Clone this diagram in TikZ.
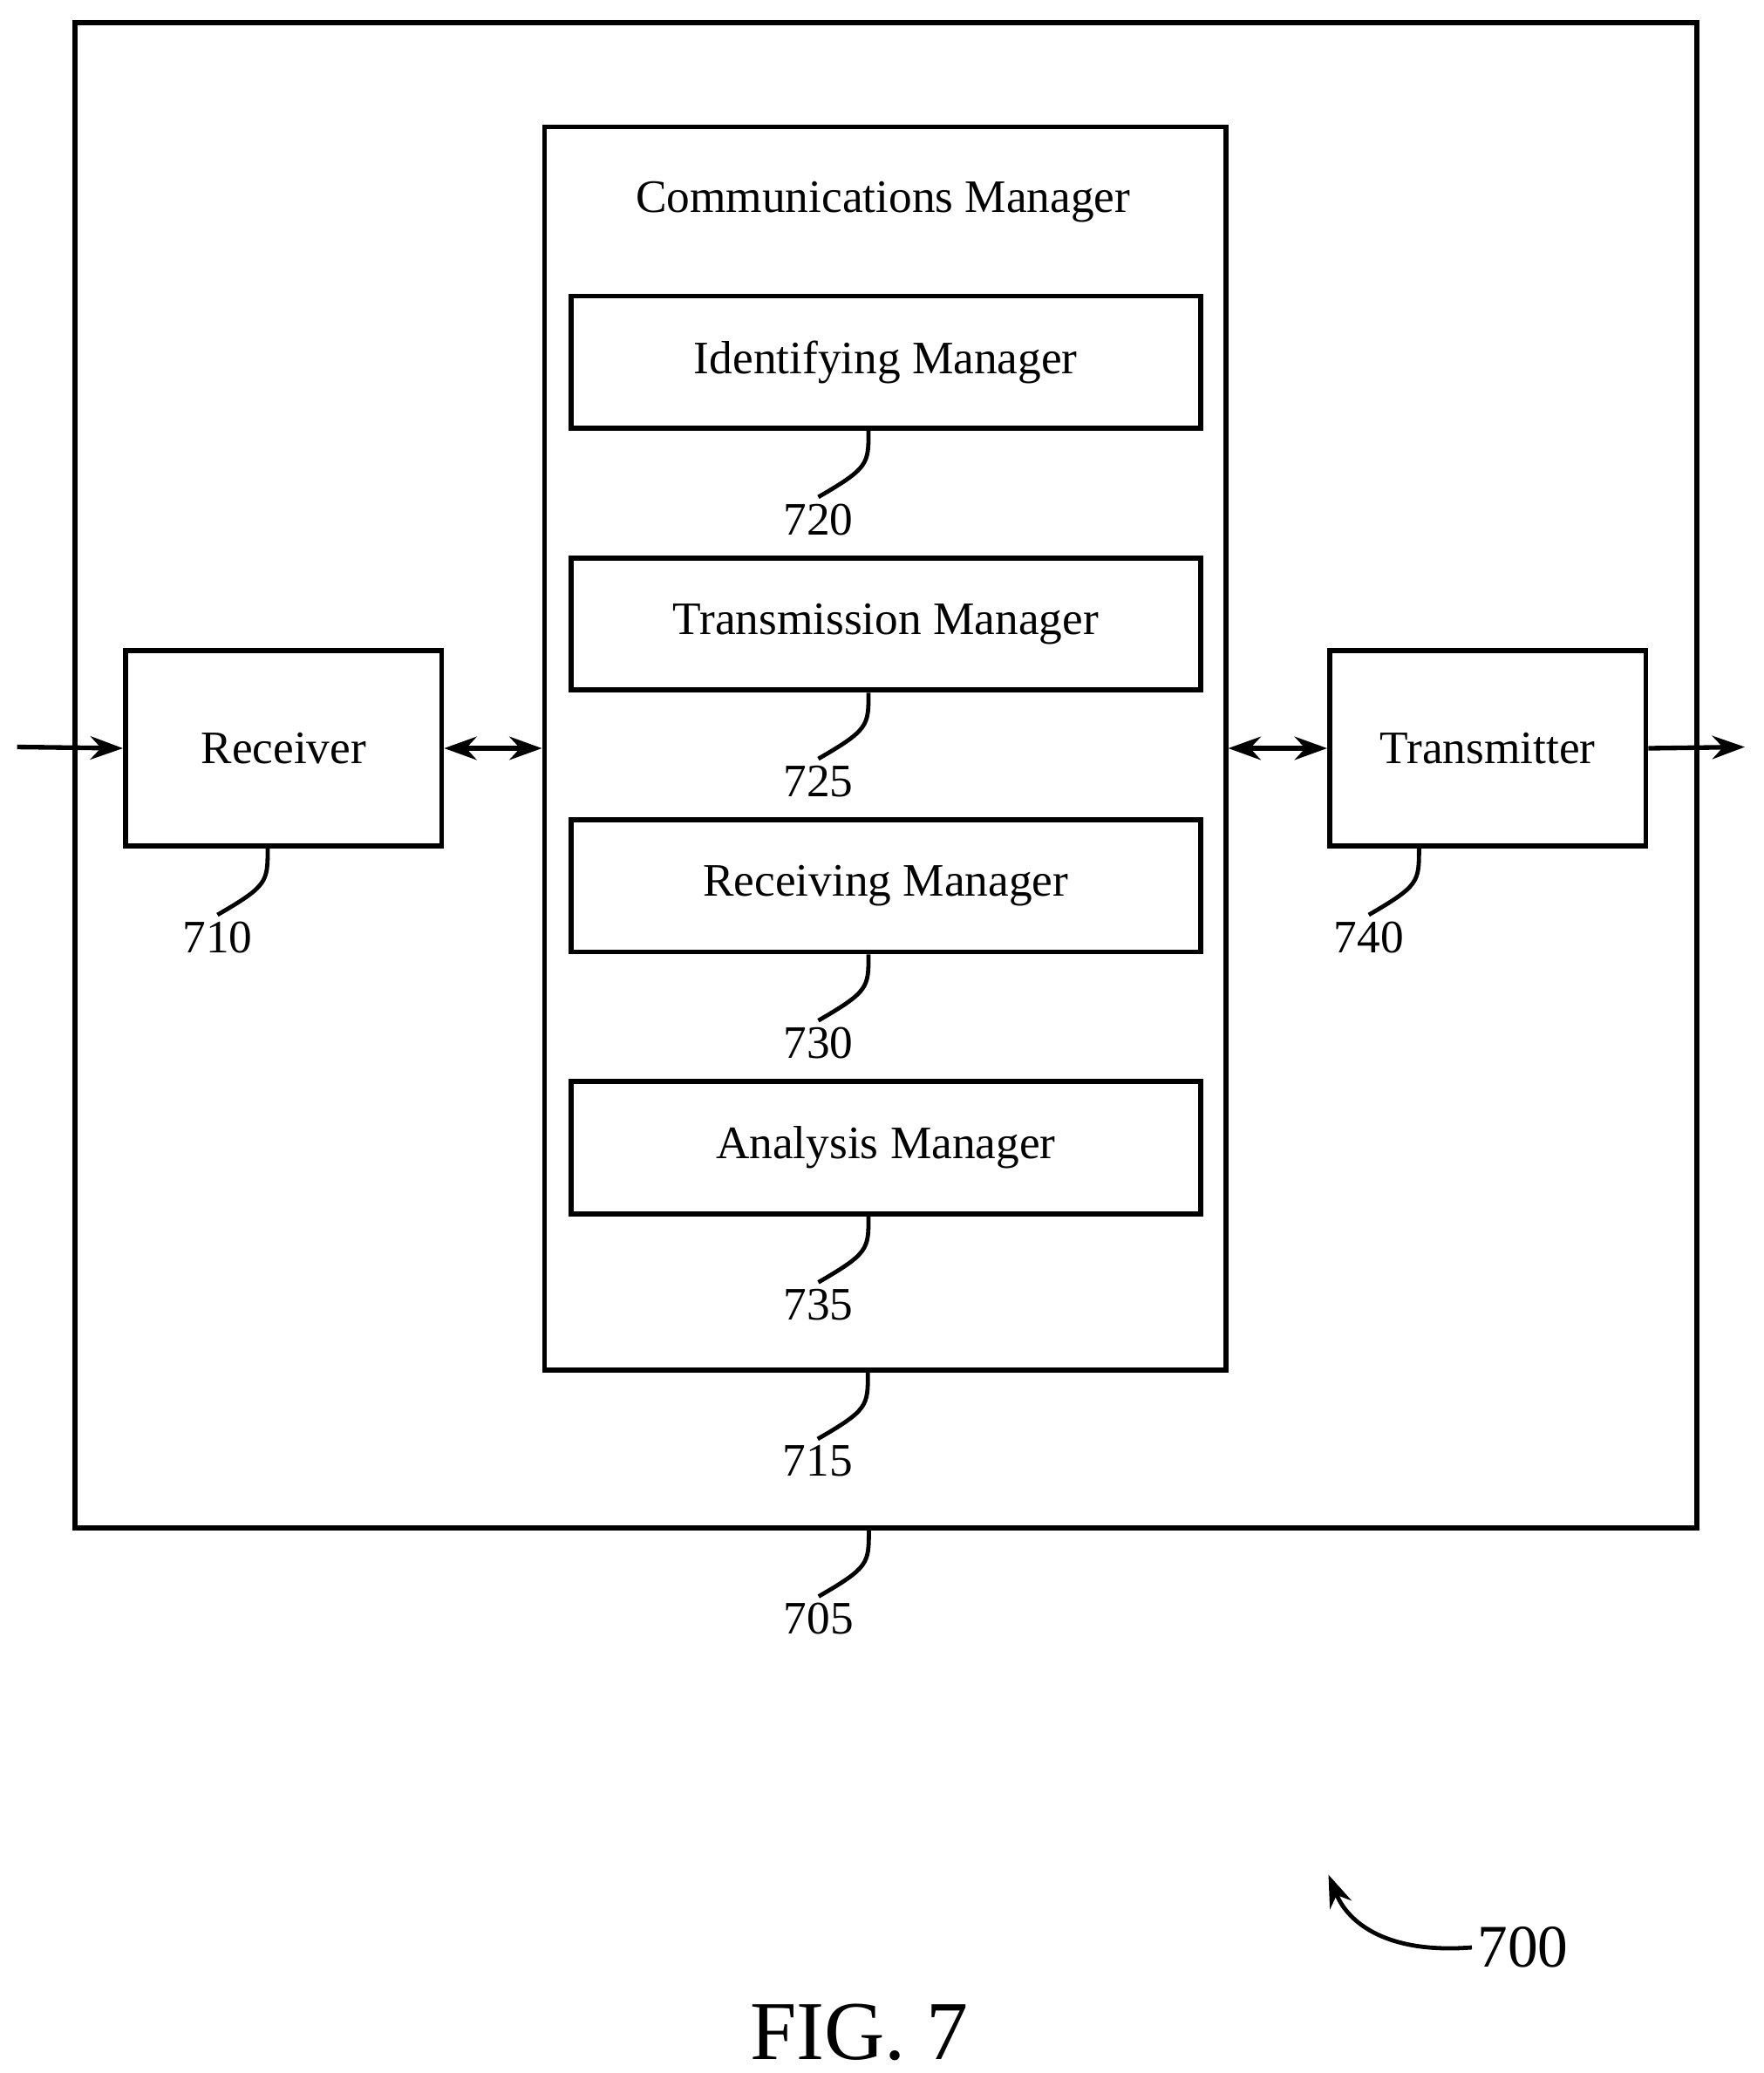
\documentclass[tikz,border=0pt]{standalone}
\usepackage{fontspec}
\setmainfont{Liberation Serif}
\usetikzlibrary{arrows.meta,positioning}

\begin{document}
\begin{tikzpicture}[x=0.01cm,y=-0.01cm,
			block/.style={rectangle, draw, line width=1.1pt, inner sep=0pt},
			sub/.style={block, minimum width=4.76cm, minimum height=1cm},
			side/.style={block, minimum width=2.39cm, minimum height=1.48cm},
			ref/.style={font=\fontsize{10}{12}\selectfont, inner sep=1pt},
			lead/.style={line width=0.9pt},
			link/.style={line width=1pt, {Stealth[length=7pt,width=5pt]}-{Stealth[length=7pt,width=5pt]}},
			feed/.style={line width=1pt, -{Stealth[length=7pt,width=5pt]}},
			every node/.style={font=\fontsize{10}{12}\selectfont}
		]
		\useasboundingbox (0,0) rectangle (1334,1568);
		% Device
		\node[block, minimum width=12.26cm, minimum height=11.38cm, anchor=north west] (dev) at (55,15) {};
		% Communications manager
		\node[block, minimum width=5.15cm, minimum height=9.4cm, anchor=north west] (cm) at (410,94) {};
		\node at (668,153) {Communications Manager};
		\node[sub, anchor=north west] (idm) at (430,222) {Identifying Manager};
		\node[sub, anchor=north west] (txm) at (430,420) {Transmission Manager};
		\node[sub, anchor=north west] (rxm) at (430,618) {Receiving Manager};
		\node[sub, anchor=north west] (anm) at (430,816) {Analysis Manager};

		% Receiver and transmitter
		\node[side, anchor=north west] (rx) at (93,490) {Receiver};
		\node[side, anchor=north west] (tx) at (1004,490) {Transmitter};
		\coordinate (in) at (13,565);
		\coordinate (out) at (1320,565);
		\draw[feed] (in) -- (rx.west);
		\draw[link] (rx.east) -- (cm.west |- rx.east);
		\draw[link] (cm.east |- tx.west) -- (tx.west);
		\draw[feed] (tx.east) -- (out);

		% Reference numerals
		\foreach \blk/\num/\dx in {idm/720/-13, txm/725/-13, rxm/730/-13, anm/735/-13, cm/715/-13, dev/705/-13, rx/710/-12, tx/740/-52} {
			\draw[lead] ([xshift=\dx*0.01cm]\blk.south) .. controls +(0,25) and +(38,-22) .. +(-38,50) node[ref, below] (n\num) {\num};
		}

		% Figure numeral
		\node[ref, font=\fontsize{13}{15}\selectfont] (n700) at (1152,1473) {700};
		\draw[lead, -{Stealth[length=7pt,width=5pt]}] (n700.west) .. controls (1050,1478) and (1020,1455) .. (1005,1418);
		\node[font=\fontsize{18}{20}\selectfont] (fig) at (650,1537) {FIG. 7};
	\end{tikzpicture}
\end{document}
